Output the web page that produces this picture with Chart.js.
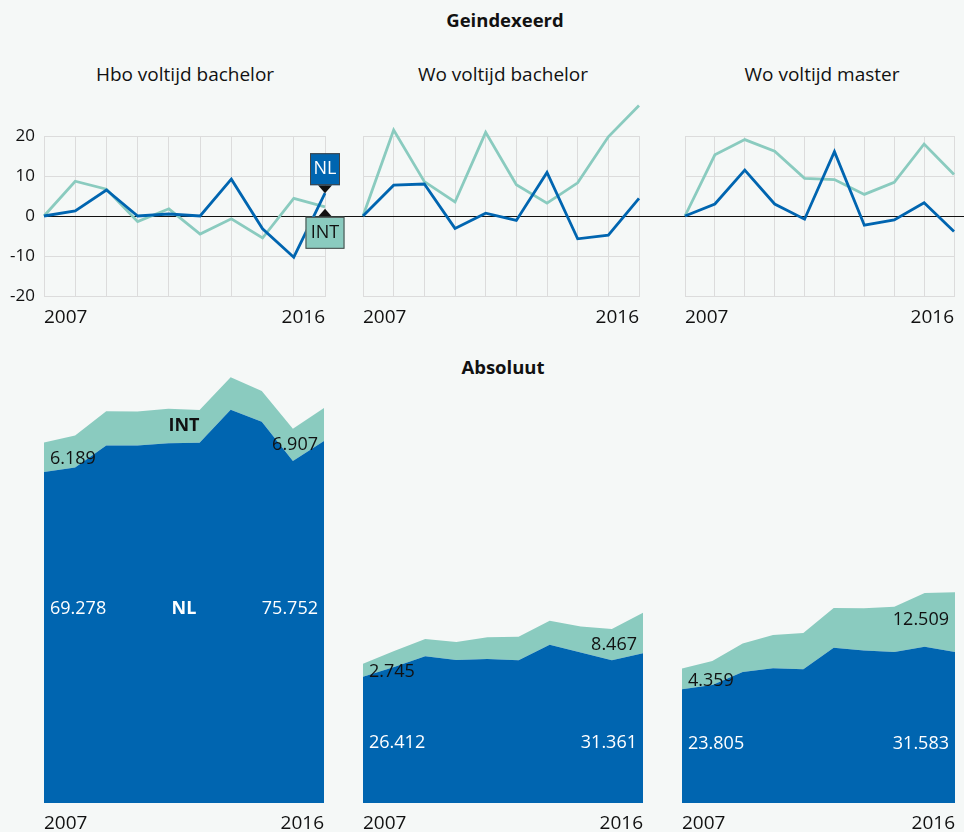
<!DOCTYPE html>
<html>
<head>
<meta charset="utf-8">
<title>Geindexeerd / Absoluut</title>
<script src="https://cdn.jsdelivr.net/npm/chart.js@4.4.1/dist/chart.umd.min.js"></script>
<style>
    body { margin: 0; background: #f5f8f7; font-family: 'Open Sans', sans-serif; color: #111; }
    #wrap { position: relative; width: 964px; height: 832px; overflow: hidden; }
    canvas { position: absolute; }
    .head { position: absolute; width: 300px; font-size: 18.5px; line-height: 20px; font-weight: bold; text-align: center; }
    .sub { position: absolute; width: 300px; font-size: 19px; line-height: 20px; text-align: center; }
</style>
</head>
<body>
<div id="wrap">
    <div class="head" style="left:355px; top:10px;">Geindexeerd</div>
    <div class="sub" style="left:35px; top:64px;">Hbo voltijd bachelor</div>
    <div class="sub" style="left:353px; top:64px;">Wo voltijd bachelor</div>
    <div class="sub" style="left:672px; top:64px;">Wo voltijd master</div>
    <div class="head" style="left:353px; top:357px;">Absoluut</div>

    <canvas id="idx1" width="345" height="240" style="left:0; top:95px;"></canvas>
    <canvas id="idx2" width="320" height="240" style="left:345px; top:95px;"></canvas>
    <canvas id="idx3" width="299" height="240" style="left:665px; top:95px;"></canvas>

    <canvas id="abs1" width="345" height="462" style="left:0; top:370px;"></canvas>
    <canvas id="abs2" width="320" height="462" style="left:345px; top:370px;"></canvas>
    <canvas id="abs3" width="299" height="462" style="left:665px; top:370px;"></canvas>
</div>
<script>
const years = ['2007', '2008', '2009', '2010', '2011', '2012', '2013', '2014', '2015', '2016'];
const idxTicks = [-20, -10, 0, 10, 20];

// geindexeerd: verandering t.o.v. vorig jaar (%)
const hboIdxNL = [0, 1.3, 6.5, 0, 0.5, 0, 9.2, -3.2, -10.3, 5.7];
const hboIdxINT = [0, 8.7, 6.7, -1.4, 1.8, -4.5, -0.7, -5.5, 4.4, 2.3];
const woBaIdxNL = [0, 7.7, 8.0, -3.1, 0.7, -1.1, 10.9, -5.7, -4.8, 4.4];
const woBaIdxINT = [0, 21.5, 8.6, 3.5, 20.9, 7.8, 3.2, 8.3, 19.8, 27.6];
const woMaIdxNL = [0, 3.0, 11.5, 3.0, -0.8, 16.1, -2.3, -1.0, 3.3, -3.9];
const woMaIdxINT = [0, 15.3, 19.1, 16.2, 9.4, 9.1, 5.4, 8.4, 18.0, 10.4];

// absoluut: aantallen studenten
const hboNL = [69278, 70200, 74800, 74850, 75300, 75400, 82300, 79800, 71600, 75752];
const hboINT = [6189, 6730, 7180, 7080, 7210, 6880, 6830, 6450, 6740, 6907];
const woBaNL = [26412, 28450, 30700, 29950, 30150, 29900, 33100, 31500, 29900, 31361];
const woBaINT = [2745, 3340, 3620, 3750, 4530, 4880, 5040, 5460, 6540, 8467];
const woMaNL = [23805, 24700, 27400, 28200, 28000, 32500, 31900, 31600, 32700, 31583];
const woMaINT = [4359, 5020, 5980, 6950, 7600, 8300, 8850, 9500, 11250, 12509];

const BLUE = '#0065b0';
const TEAL = '#8acbbf';
const FONT = "'Open Sans', sans-serif";

Chart.defaults.font.family = FONT;
Chart.defaults.color = '#111';

function fmt(v)
{
    return String(v).replace(/\B(?=(\d{3})+(?!\d))/g, '.');
}

function edgeLabels(value, index, ticks)
{
    return (index === 0 || index === ticks.length - 1) ? this.getLabelForValue(value) : '';
}

// zwarte nullijn, doorgetrokken tot de rand van het canvas
const zeroLine = {
    id: 'zeroLine',
    beforeDatasetsDraw(chart, args, opts)
    {
        const ctx = chart.ctx;
        const y = Math.round(chart.scales.y.getPixelForValue(0)) + 0.5;
        const x0 = opts.fromArea ? chart.chartArea.left : 0;
        ctx.save();
        ctx.strokeStyle = '#111';
        ctx.lineWidth = 1.2;
        ctx.beginPath();
        ctx.moveTo(x0, y);
        ctx.lineTo(chart.width, y);
        ctx.stroke();
        ctx.restore();
    }
};

// NL / INT labels bij het laatste punt
const endTags = {
    id: 'endTags',
    afterDatasetsDraw(chart, args, opts)
    {
        if (!opts.show) return;
        const ctx = chart.ctx;
        const nl = chart.getDatasetMeta(0).data;
        const it = chart.getDatasetMeta(1).data;
        const pN = nl[nl.length - 1];
        const pI = it[it.length - 1];

        ctx.save();
        ctx.font = '18px ' + FONT;
        ctx.textAlign = 'center';
        ctx.textBaseline = 'middle';
        ctx.lineWidth = 1;
        ctx.strokeStyle = '#444';

        // NL box boven het punt
        const nb = pN.y - 8;
        ctx.fillStyle = '#111';
        ctx.beginPath();
        ctx.moveTo(pN.x - 7, nb);
        ctx.lineTo(pN.x + 7, nb);
        ctx.lineTo(pN.x, pN.y);
        ctx.closePath();
        ctx.fill();
        ctx.fillStyle = BLUE;
        ctx.fillRect(pN.x - 15, nb - 32, 30, 32);
        ctx.strokeRect(pN.x - 15 + 0.5, nb - 32 + 0.5, 29, 31);
        ctx.fillStyle = '#fff';
        ctx.fillText('NL', pN.x, nb - 16);

        // INT box onder het punt
        const it0 = pI.y + 10;
        ctx.fillStyle = '#111';
        ctx.beginPath();
        ctx.moveTo(pI.x - 7, it0);
        ctx.lineTo(pI.x + 7, it0);
        ctx.lineTo(pI.x, it0 - 8);
        ctx.closePath();
        ctx.fill();
        ctx.fillStyle = TEAL;
        ctx.fillRect(pI.x - 19.5, it0, 39, 32);
        ctx.strokeRect(pI.x - 19.5 + 0.5, it0 + 0.5, 38, 31);
        ctx.fillStyle = '#111';
        ctx.fillText('INT', pI.x, it0 + 16);
        ctx.restore();
    }
};

// waarden in de vlakken
const areaLabels = {
    id: 'areaLabels',
    afterDatasetsDraw(chart, args, opts)
    {
        const ctx = chart.ctx;
        const nlPts = chart.getDatasetMeta(0).data;
        const itPts = chart.getDatasetMeta(1).data;
        const nl = chart.data.datasets[0].data;
        const it = chart.data.datasets[1].data;
        const n = nl.length - 1;
        const mid = i => (nlPts[i].y + itPts[i].y) / 2;
        const ly = chart.scales.y.getPixelForValue(opts.level);

        ctx.save();
        ctx.textBaseline = 'middle';
        ctx.font = '18px ' + FONT;
        ctx.fillStyle = '#111';
        ctx.textAlign = 'left';
        ctx.fillText(fmt(it[0]), nlPts[0].x + 6, mid(0) + 2);
        ctx.textAlign = 'right';
        ctx.fillText(fmt(it[n]), nlPts[n].x - 6, mid(n - 1));

        ctx.fillStyle = '#fff';
        ctx.textAlign = 'left';
        ctx.fillText(fmt(nl[0]), nlPts[0].x + 6, ly);
        ctx.textAlign = 'right';
        ctx.fillText(fmt(nl[n]), nlPts[n].x - 6, ly);

        if (opts.names)
        {
            const cx = (chart.chartArea.left + chart.chartArea.right) / 2;
            ctx.font = 'bold 18px ' + FONT;
            ctx.textAlign = 'center';
            ctx.fillText('NL', cx, ly);
            ctx.fillStyle = '#111';
            ctx.fillText('INT', cx, (mid(4) + mid(5)) / 2);
        }
        ctx.restore();
    }
};

function indexChart(id, nl, int, axisWidth, padRight, first)
{
    new Chart(document.getElementById(id), {
        type: 'line',
        data: {
            labels: years,
            datasets: [
                { data: nl, borderColor: BLUE, borderWidth: 2.8, pointRadius: 0, tension: 0, clip: false },
                { data: int, borderColor: TEAL, borderWidth: 2.8, pointRadius: 0, tension: 0, clip: false }
            ]
        },
        options: {
            responsive: false,
            animation: false,
            layout: { padding: { top: 41, right: padRight, left: 0, bottom: 0 } },
            plugins: {
                legend: { display: false },
                tooltip: { enabled: false },
                zeroLine: { fromArea: first },
                endTags: { show: first }
            },
            scales: {
                x: {
                    grid: { color: '#dcdcdc', drawTicks: false },
                    border: { color: '#dcdcdc' },
                    ticks: {
                        autoSkip: false, maxRotation: 0, align: 'inner', padding: 10,
                        font: { size: 19 }, callback: edgeLabels
                    },
                    afterFit: s => { s.height = 39; }
                },
                y: {
                    min: -20,
                    max: 20,
                    afterBuildTicks: s => { s.ticks = idxTicks.map(v => ({ value: v })); },
                    grid: { color: '#dcdcdc', drawTicks: false },
                    border: { color: '#dcdcdc' },
                    ticks: { display: first, padding: 9, font: { size: 17 }, callback: v => String(v) },
                    afterFit: s => { s.width = axisWidth; }
                }
            }
        },
        plugins: [zeroLine, endTags]
    });
}

function absChart(id, nl, int, padLeft, padRight, level, names)
{
    new Chart(document.getElementById(id), {
        type: 'line',
        data: {
            labels: years,
            datasets: [
                { data: nl, fill: 'origin', backgroundColor: BLUE, borderWidth: 0, pointRadius: 0, tension: 0 },
                { data: int, fill: '-1', backgroundColor: TEAL, borderWidth: 0, pointRadius: 0, tension: 0 }
            ]
        },
        options: {
            responsive: false,
            animation: false,
            layout: { padding: { top: 3, right: padRight, left: padLeft, bottom: 0 } },
            plugins: {
                legend: { display: false },
                tooltip: { enabled: false },
                filler: { propagate: false },
                areaLabels: { level: level, names: names }
            },
            scales: {
                x: {
                    grid: { display: false, drawTicks: false },
                    border: { display: false },
                    ticks: {
                        autoSkip: false, maxRotation: 0, align: 'inner', padding: 9,
                        font: { size: 19 }, callback: edgeLabels
                    },
                    afterFit: s => { s.height = 29; }
                },
                y: {
                    display: false,
                    stacked: true,
                    min: 0,
                    max: 90000
                }
            }
        },
        plugins: [areaLabels]
    });
}

indexChart('idx1', hboIdxNL, hboIdxINT, 44, 20, true);
indexChart('idx2', woBaIdxNL, woBaIdxINT, 18, 26, false);
indexChart('idx3', woMaIdxNL, woMaIdxINT, 20, 2, false);

absChart('abs1', hboNL, hboINT, 44, 21, 40600, true);
absChart('abs2', woBaNL, woBaINT, 18, 22, 12500, false);
absChart('abs3', woMaNL, woMaINT, 17, 2, 12300, false);
</script>
</body>
</html>
